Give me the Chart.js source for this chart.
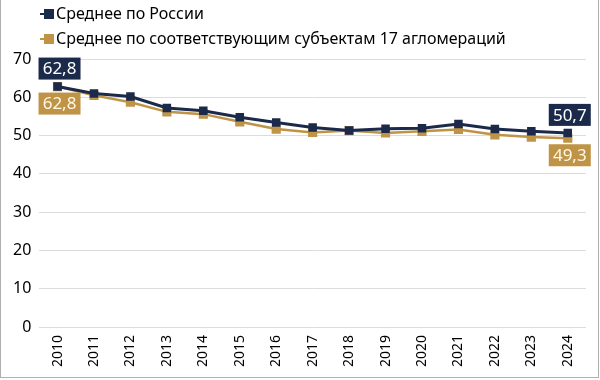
<!DOCTYPE html>
<html><head><meta charset="utf-8">
<script src="https://cdn.jsdelivr.net/npm/chart.js@4/dist/chart.umd.min.js"></script>
<style>
html,body{margin:0;padding:0;background:#fff;}
#wrap{position:absolute;left:0;top:0;width:597px;height:377px;border-left:1px solid #b0b0b0;border-right:1px solid #b0b0b0;border-bottom:1px solid #b0b0b0;}
canvas{display:block;}
</style></head>
<body><div id="wrap"><canvas id="c" width="597" height="377"></canvas></div>
<script>
const years = ['2010','2011','2012','2013','2014','2015','2016','2017','2018','2019','2020','2021','2022','2023','2024'];
const russia = [62.8,61.0,60.2,57.2,56.5,54.8,53.4,52.1,51.3,51.8,51.9,53.0,51.7,51.1,50.7];
const aggl = [62.8,60.5,58.7,56.2,55.6,53.6,51.7,50.8,51.3,50.7,51.1,51.6,50.2,49.6,49.3];
const yTicks = [0,10,20,30,40,50,60,70];
const seriesNames = ['Среднее по России','Среднее по соответствующим субъектам 17 агломераций'];
const NAVY = '#1b2a4a', GOLD = '#bf9446';
const FONT = "'Noto Sans', sans-serif";

const labelPlugin = {
  id:'lbl',
  afterDatasetsDraw(chart){
    const ctx = chart.ctx;
    const last = years.length-1;
    const items = [[0,0,-1],[1,0,1],[0,last,-1],[1,last,1]];
    ctx.save();
    ctx.font = "17px " + FONT;
    ctx.textAlign='center'; ctx.textBaseline='middle';
    items.forEach(([ds,idx,dir])=>{
      const p = chart.getDatasetMeta(ds).data[idx];
      const v = chart.data.datasets[ds].data[idx];
      const txt = v.toFixed(1).replace('.',',');
      const w = 42, h = 22;
      const cx = p.x + 2;
      const cy = dir<0 ? p.y - 18 : p.y + 17;
      ctx.fillStyle = ds===0?NAVY:GOLD;
      ctx.fillRect(cx-w/2, cy-h/2, w, h);
      ctx.fillStyle = ds===0?'#ffffff':'#fff8ea';
      ctx.fillText(txt, cx, cy+1);
    });
    ctx.restore();
  },
  afterDraw(chart){
    const ctx = chart.ctx; ctx.save();
    const ys = [14, 39];
    chart.data.datasets.forEach((d,i)=>{
      const cy = ys[i];
      ctx.strokeStyle = d.borderColor; ctx.lineWidth = 2;
      ctx.beginPath(); ctx.moveTo(39, cy); ctx.lineTo(46, cy); ctx.stroke();
      ctx.fillStyle = d.borderColor;
      ctx.fillRect(43, cy-5, 10, 10);
      ctx.fillStyle = '#000';
      ctx.font = "16px " + FONT;
      ctx.textAlign='left'; ctx.textBaseline='middle';
      ctx.fillText(d.label, 55, cy);
    });
    ctx.restore();
  }
};

new Chart(document.getElementById('c'),{
  type:'line',
  data:{labels:years,datasets:[
    {label:seriesNames[0],data:russia,borderColor:NAVY,backgroundColor:NAVY,borderWidth:3,pointStyle:'rect',pointRadius:6,pointBorderWidth:0,pointBackgroundColor:NAVY,tension:0},
    {label:seriesNames[1],data:aggl,borderColor:GOLD,backgroundColor:GOLD,borderWidth:2.5,pointStyle:'rect',pointRadius:6.5,pointBorderWidth:0,pointBackgroundColor:GOLD,tension:0}
  ]},
  options:{
    responsive:false,animation:false,
    layout:{padding:{left:4,right:12,top:59,bottom:0}},
    plugins:{ legend:{display:false}, tooltip:{enabled:false} },
    scales:{
      x:{offset:true,grid:{display:false},border:{display:false},
        afterFit(s){ s.height = 50; },
        ticks:{maxRotation:90,minRotation:90,color:'#000',font:{family:FONT,size:14},padding:0}},
      y:{min:0,max:70,afterBuildTicks(s){s.ticks=yTicks.map(v=>({value:v}));},
        grid:{color:'#dcdcdc',lineWidth:1,drawTicks:false},border:{display:false},
        ticks:{color:'#000',font:{family:FONT,size:16},padding:8}}
    }
  },
  plugins:[labelPlugin]
});
</script></body></html>
